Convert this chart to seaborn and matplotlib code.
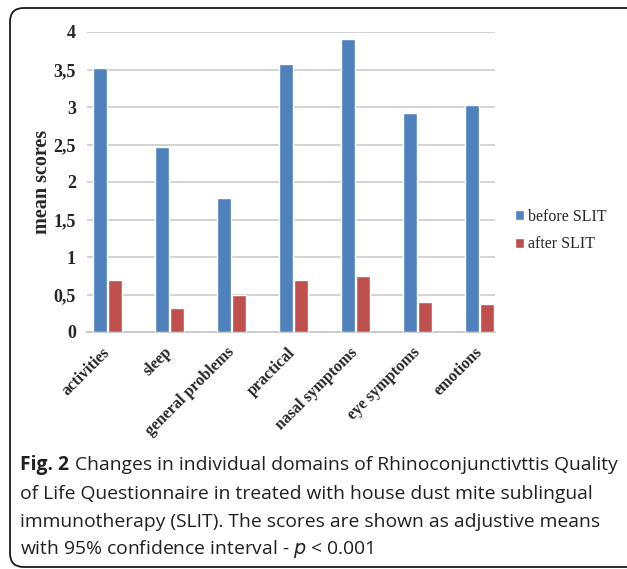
import matplotlib
matplotlib.use("Agg")
import matplotlib.pyplot as plt
import seaborn as sns
import pandas as pd
from matplotlib.patches import FancyBboxPatch
from matplotlib.ticker import FuncFormatter

categories = ["activities", "sleep", "general problems", "practical",
              "nasal symptoms", "eye symptoms", "emotions"]
before_slit = [3.52, 2.47, 1.79, 3.57, 3.91, 2.92, 3.03]
after_slit = [0.69, 0.32, 0.50, 0.69, 0.75, 0.40, 0.38]
series_names = ["before SLIT", "after SLIT"]
y_ticks = [0, 0.5, 1, 1.5, 2, 2.5, 3, 3.5, 4]

df = pd.DataFrame({
    "domain": categories * 2,
    "score": before_slit + after_slit,
    "series": [series_names[0]] * len(categories) + [series_names[1]] * len(categories),
})

sns.set_theme(style="white")
plt.rcParams["font.family"] = ["Liberation Serif", "DejaVu Serif"]

W, H = 627, 569
fig = plt.figure(figsize=(W / 100, H / 100), dpi=100)
fig.patch.set_facecolor("white")

# outer rounded frame
frame = FancyBboxPatch((10 / W, (H - 567) / H), (660 - 10) / W, (567 - 8) / H,
                       boxstyle="round,pad=0,rounding_size=0.022",
                       transform=fig.transFigure, facecolor="none",
                       edgecolor="#1a1a1a", linewidth=1.3, mutation_aspect=W / H)
fig.patches.append(frame)

ax_left, ax_right, ax_top, ax_bottom = 87, 495, 32, 332
ax = fig.add_axes([ax_left / W, (H - ax_bottom) / H,
                   (ax_right - ax_left) / W, (ax_bottom - ax_top) / H])

sns.barplot(data=df, x="domain", y="score", hue="series", order=categories,
            hue_order=series_names, palette=["#4F81BD", "#C0504D"],
            width=0.5, gap=0.1, ax=ax, saturation=1, errorbar=None, zorder=3)

ax.set_xlim(-0.33, 6.25)
ax.set_ylim(0, 4)
ax.set_yticks(y_ticks)
ax.yaxis.set_major_formatter(FuncFormatter(lambda v, p: (f"{v:g}").replace(".", ",")))
ax.grid(axis="y", color="#D0D0D0", linewidth=1.3, zorder=0)
ax.grid(axis="x", visible=False)
for s in ["left", "right", "top"]:
    ax.spines[s].set_visible(False)
ax.spines["bottom"].set_color("#C8C8C8")
ax.spines["bottom"].set_linewidth(1.3)
ax.tick_params(axis="both", length=0)
ax.tick_params(axis="y", pad=8)
ax.tick_params(axis="x", pad=13)
for lbl in ax.get_yticklabels():
    lbl.set_fontweight("bold")
    lbl.set_fontsize(13)
ax.set_xticks(range(len(categories)))
ax.set_xticklabels(categories, rotation=45, ha="right", va="center",
                   rotation_mode="anchor", fontweight="bold", fontsize=11.5)
ax.set_xlabel("")
ax.set_ylabel("mean scores", fontweight="bold", fontsize=14.5, labelpad=1)

ax.legend(loc="center left", bbox_to_anchor=(1.05, 0.338), frameon=False,
          handlelength=0.55, handleheight=0.55, handletextpad=0.25,
          labelspacing=0.72, borderpad=0, borderaxespad=0,
          prop={"family": "Liberation Serif", "size": 11.5})

# caption
cap_font = ["Open Sans", "DejaVu Sans"]
fs = 13.9
color = "#231f20"
x0 = 20 / W
lines_y = [465, 494, 522, 549]
renderer = fig.canvas.get_renderer()
t = fig.text(x0, 1 - lines_y[0] / H, "Fig. 2", fontsize=fs, fontweight="bold",
             family=cap_font, va="center", ha="left", color=color)
bb = t.get_window_extent(renderer=renderer)
fig.text((bb.x1 + 6) / W, 1 - lines_y[0] / H,
         "Changes in individual domains of Rhinoconjunctivttis Quality",
         fontsize=fs, family=cap_font, va="center", ha="left", color=color)
fig.text(x0, 1 - lines_y[1] / H,
         "of Life Questionnaire in treated with house dust mite sublingual",
         fontsize=fs, family=cap_font, va="center", ha="left", color=color)
fig.text(x0, 1 - lines_y[2] / H,
         "immunotherapy (SLIT). The scores are shown as adjustive means",
         fontsize=fs, family=cap_font, va="center", ha="left", color=color)
fig.text(x0, 1 - lines_y[3] / H,
         "with 95% confidence interval - $p$ < 0.001",
         fontsize=fs, family=cap_font, va="center", ha="left", color=color,
         math_fontfamily="dejavusans")

fig.savefig("out.png", dpi=100, facecolor="white")
